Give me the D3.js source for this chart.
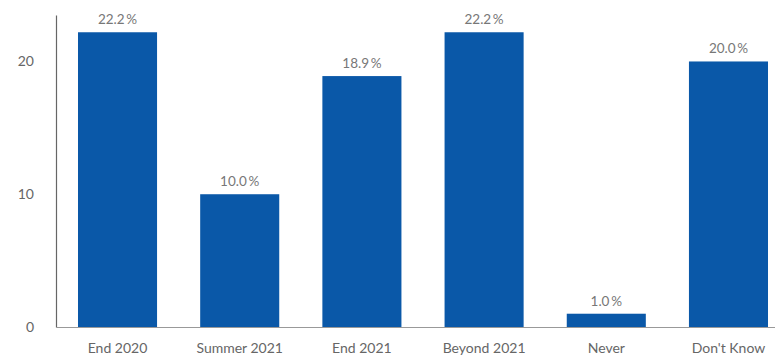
<!DOCTYPE html>
<html>
<head>
<meta charset="utf-8">
<script src="https://cdn.jsdelivr.net/npm/d3@7"></script>
<style>
  body { margin: 0; background: #fff; }
  svg { display: block; font-family: Lato, "Open Sans", sans-serif; }
</style>
</head>
<body>
<svg id="chart" width="775" height="357"></svg>
<script>
const categories = ['End 2020', 'Summer 2021', 'End 2021', 'Beyond 2021', 'Never', "Don't Know"];
const values = [22.2, 10.0, 18.9, 22.2, 1.0, 20.0];
const yTicks = [0, 10, 20];

const svg = d3.select('#chart');

// region scales
const x = d3.scaleBand()
  .domain(categories)
  .range([56, 790])
  .paddingInner(0.353)
  .paddingOuter(0.18);

const y = d3.scaleLinear()
  .domain([0, 23.5])
  .range([327, 15]);
// endregion

// y axis
const yAxis = d3.axisLeft(y)
  .tickValues(yTicks)
  .tickSize(0)
  .tickPadding(22);

svg.append('g')
  .attr('transform', 'translate(56,0)')
  .call(yAxis)
  .call(g => g.select('.domain').attr('stroke', '#666').attr('stroke-width', 1.2))
  .call(g => g.selectAll('text')
    .attr('fill', '#666')
    .style('font-size', '14px')
    .style('font-family', 'Lato, sans-serif'));

// bars
svg.append('g')
  .selectAll('rect')
  .data(values)
  .join('rect')
  .attr('x', (d, i) => x(categories[i]))
  .attr('width', x.bandwidth())
  .attr('y', d => y(d))
  .attr('height', d => y(0) - y(d))
  .attr('fill', '#0a58a8');

// value labels
svg.append('g')
  .selectAll('text')
  .data(values)
  .join('text')
  .attr('x', (d, i) => x(categories[i]) + x.bandwidth() / 2)
  .attr('y', d => y(d) - 8)
  .attr('text-anchor', 'middle')
  .attr('fill', '#777')
  .style('font-size', '13.5px')
  .text(d => d.toFixed(1) + '\u2009%');

// x axis
const xAxis = d3.axisBottom(x)
  .tickSize(0)
  .tickPadding(16);

svg.append('g')
  .attr('transform', 'translate(0,' + y(0) + ')')
  .call(xAxis)
  .call(g => g.select('.domain').attr('stroke', '#999').attr('stroke-width', 1))
  .call(g => g.selectAll('text')
    .attr('fill', '#666')
    .style('font-size', '14px')
    .style('font-family', 'Lato, sans-serif'));
</script>
</body>
</html>
